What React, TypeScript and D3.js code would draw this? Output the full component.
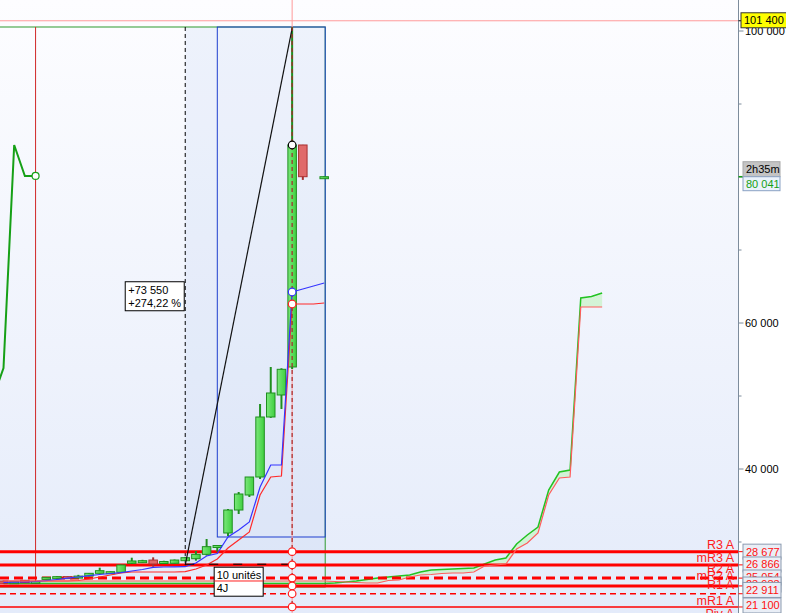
import React from "react";
import * as d3 from "d3";

const W = 786;
const H = 613;

// ---- candles (index, OHLC) ----
const candleIdx = [0,1,2,3,4,5,6,7,8,9,10,11,12,13,14,15,16,17,18,19,20,21,22,23,24,25,26,27,28,30];
const candleOpen = [24656,24341,24752,24400,24930,25110,25250,25130,25340,25710,25800,25850,27080,27170,27530,27060,27080,27440,27710,28310,29400,31232,34383,36438,38904,47124,50138,53974,84385,80041];
const candleHigh = [24700,24600,24800,24650,25200,25280,25270,25500,25750,26480,25960,26900,27850,27560,27900,27430,27600,27960,28770,30410,29520,34520,36849,38904,48905,53974,53800,100548,84400,80100];
const candleLow  = [24300,24300,24400,24380,24900,25100,25100,25100,25300,25690,25780,25800,27000,27150,26610,27040,27060,27420,27440,28130,28680,30821,33835,36164,38630,47000,48220,53700,79600,79980];
const candleClose= [24341,24565,24424,24600,25160,25250,25120,25330,25710,26070,25930,26850,27400,27440,26980,27330,27530,27850,28310,29360,29520,34383,36575,38904,47124,50412,53658,84385,80041,80041];

// ---- moving averages (index 0..30) ----
const blueMA = [24479,24493,24521,24562,24712,24863,25041,25205,25384,25548,25685,25795,26027,26233,26534,26575,26603,26616,27123,28082,28425,30685,31644,32740,37534,40548,40548,64247,64658,65069,65479];
const redMA = [24658,24658,24658,24658,24658,24658,24658,24726,24932,25205,25479,25753,25890,25890,25890,25890,25890,25931,26301,26849,27671,29178,30274,31370,36438,38904,39041,62603,62603,62603,62740];

// ---- projection band ----
const projIdx = [0,30,31,32,33,34,35,36,37,38,39,40,41,42,43,44,45,46,47,48,49,50,51,52,53,54,55,56];
const projGreen = [24315,24315,24384,24521,24658,24863,25068,25205,25342,25479,25890,26164,26233,26301,26370,26438,26986,27534,27808,29726,30959,32055,37123,39589,39863,63425,63630,64110];
const projRed = [24658,24658,24589,24521,24452,24384,24384,24726,24795,25205,25479,25548,25685,25753,25753,25890,26712,26849,26986,29041,29863,31233,36438,38767,38904,62192,62192,62192];

// ---- left line ----
const leftLineIdx = [-1,0,1,2,3];
const leftLineVal = [49645,53837,84385,80141,80141];

// ---- pivot levels ----
const levelNames = ["R3 A","mR3 A","R2 A","mR2 A","R1 A","mR1 A","Piv A"];
const levelValues = [28677,26866,25054,23983,22911,21100,19289];

// ---- axis ----
const majorTicks = [100000,80000,60000,40000,20000];
const minorTicks = [90000,70000,50000,30000];

const lastPrice = 80041;
const crossPrice = 101400;
const timerText = "2h35m";
const measureStartIdx = 17;
const measureStartVal = 26821;
const measureEndIdx = 27;
const measureEndVal = 100371;
const measureText = ["+73 550", "+274,22 %"];
const unitsText = ["10 unités", "4J"];
const boxHighVal = 100548;
const blueBoxLowVal = 30685;
const greenBoxLowVal = 23836;
const greenBoxStartIdx = 3;
const blueBoxStartIdx = 20;
const boxEndIdx = 30;

const FONT = "'Liberation Sans', Arial, sans-serif";

export default function App() {
  const x = d3.scaleLinear().domain([0, 30]).range([3.5, 324.2]);
  const y = d3.scaleLinear().domain([40000, 60000]).range([469, 323]);
  const axisX = 738.5;
  const bodyW = 8.5;
  const fmt = d3.formatLocale({ decimal: ",", thousands: " ", grouping: [3], currency: ["", ""] }).format(",d");

  const maLine = (arr: number[]) =>
    d3.line<number>().x((_, i) => x(i)).y((v) => y(v))(arr) || "";
  const projLine = (arr: number[]) =>
    d3.line<number>().x((_, k) => x(projIdx[k])).y((v) => y(v))(arr) || "";
  const projArea =
    d3.area<number>().x((_, k) => x(projIdx[k])).y0((_, k) => y(projRed[k])).y1((v) => y(v))(projGreen) || "";
  const leftLine =
    d3.line<number>().x((_, k) => x(leftLineIdx[k])).y((v) => y(v))(leftLineVal) || "";

  const boxRight = x(boxEndIdx) + 1;
  const xs = x(measureStartIdx);
  const xe = x(measureEndIdx);
  const yStart = y(measureStartVal);
  const yEnd = y(measureEndVal);
  const yTop = y(boxHighVal);

  // level styles
  const levelWidth = [3, 3, 3, 3, 1.5, 1.5, 1.5];
  const levelDash = [null, null, "9,5", null, "6,4", null, null];
  const labelNudge = [-2.3, -3, -5, -6, -5, -2, -2];
  const boxNudge = [0, -0.4, -0.6, -1.4, -3.8, -1.5, 0];

  const circleVals = [
    { v: candleClose[27], c: "#000" },
    { v: blueMA[27], c: "#3333ff" },
    { v: redMA[27], c: "#ff2222" },
    ...levelValues.slice(0, 6).map((v) => ({ v, c: "#ff2020" })),
  ];

  return (
    <svg width={W} height={H} style={{ position: "absolute", left: 0, top: 0, fontFamily: FONT }}>
      <defs>
        <linearGradient id="bg" x1="0" y1="0" x2="0" y2="1">
          <stop offset="0" stopColor="#fdfdff" />
          <stop offset="1" stopColor="#e4ebfa" />
        </linearGradient>
        <linearGradient id="gc" x1="0" y1="0" x2="1" y2="0">
          <stop offset="0" stopColor="#7be87b" />
          <stop offset="1" stopColor="#3fcf3f" />
        </linearGradient>
      </defs>
      <rect x={0} y={0} width={W} height={H} fill="#ffffff" />
      <rect x={0} y={0} width={axisX} height={H} fill="url(#bg)" />

      {/* measure shading */}
      <rect x={xs} y={yTop} width={boxRight - xs} height={yStart - yTop} fill="rgba(170,190,235,0.16)" />

      {/* projection band */}
      <path d={projArea} fill="#c9f3c9" opacity={0.75} />
      <path d={projLine(projGreen)} fill="none" stroke="#22c322" strokeWidth={1.5} />

      {/* green box */}
      <rect x={-5} y={yTop} width={boxRight + 5} height={y(greenBoxLowVal) - yTop} fill="none" stroke="#2e9a2e" strokeWidth={1} />
      {/* blue box */}
      <rect x={x(blueBoxStartIdx)} y={yTop} width={boxRight - x(blueBoxStartIdx)} height={y(blueBoxLowVal) - yTop} fill="none" stroke="#1f3fcf" strokeWidth={1} />
      {/* red vertical */}
      <line x1={x(greenBoxStartIdx)} x2={x(greenBoxStartIdx)} y1={yTop} y2={y(24658)} stroke="#d02828" strokeWidth={1} />
      {/* dashed measure vertical */}
      <line x1={xs} x2={xs} y1={yTop} y2={yStart} stroke="#000" strokeWidth={1} strokeDasharray="4,3" />

      {/* pivot lines */}
      {levelValues.map((v, k) => (
        <line key={"lv" + k} x1={0} x2={axisX} y1={y(v)} y2={y(v)} stroke="#ff0000" strokeWidth={levelWidth[k]} strokeDasharray={levelDash[k] || undefined} />
      ))}
      {levelValues.map((v, k) => (
        <text key={"lt" + k} x={734} y={y(v) + labelNudge[k]} fill="#ff1a1a" fontSize={12.5} textAnchor="end">
          {levelNames[k]}
        </text>
      ))}

      {/* left line */}
      <path d={leftLine} fill="none" stroke="#16a016" strokeWidth={2} />
      <circle cx={x(leftLineIdx[4])} cy={y(leftLineVal[4])} r={3.5} fill="#fff" stroke="#16a016" strokeWidth={1.2} />

      {/* crosshair */}
      <line x1={0} x2={axisX} y1={y(crossPrice)} y2={y(crossPrice)} stroke="#ff9a9a" strokeWidth={1} />
      <line x1={x(27)} x2={x(27)} y1={0} y2={H} stroke="#ff9a9a" strokeWidth={1} />

      {/* candles */}
      {candleIdx.map((ci, k) => {
        const o = candleOpen[k], c = candleClose[k], h = candleHigh[k], l = candleLow[k];
        const up = c >= o;
        const cx = x(ci);
        const top = y(Math.max(o, c));
        const bot = y(Math.min(o, c));
        const bh = Math.max(2, bot - top);
        const edge = up ? "#1f8f1f" : "#a83030";
        return (
          <g key={"c" + k}>
            <line x1={cx} x2={cx} y1={y(h)} y2={y(l)} stroke={edge} strokeWidth={2} />
            <rect x={cx - bodyW / 2} y={top} width={bodyW} height={bh} fill={up ? "url(#gc)" : "#e06a6a"} stroke={edge} strokeWidth={1} />
          </g>
        );
      })}

      {/* moving averages */}
      <path d={maLine(redMA)} fill="none" stroke="#ff2a2a" strokeWidth={1.2} />
      <path d={maLine(blueMA)} fill="none" stroke="#3535ff" strokeWidth={1.2} />

      {/* projection red line */}
      <path d={projLine(projRed)} fill="none" stroke="#ff5c5c" strokeWidth={1.2} />

      {/* measure baseline and diagonal */}
      <line x1={xs} x2={xe} y1={yStart - 1} y2={yStart - 1} stroke="#000" strokeWidth={1} strokeDasharray="9,15" />
      <line x1={xs} x2={xe} y1={yStart} y2={yEnd} stroke="#111" strokeWidth={1.2} />

      {/* vertical dashed marker */}
      <line x1={x(27)} x2={x(27)} y1={yTop} y2={y(levelValues[5])} stroke="#a82828" strokeWidth={1.2} strokeDasharray="4,3" />
      {circleVals.map((cv, k) => (
        <circle key={"cc" + k} cx={x(27)} cy={y(cv.v)} r={3.8} fill="#fff" stroke={cv.c} strokeWidth={1.2} />
      ))}

      {/* measure label */}
      <g>
        <rect x={xs - 60} y={(yStart + yEnd) / 2 - 15} width={59} height={29} fill="#fff" stroke="#000" strokeWidth={1} />
        <text x={xs - 57} y={(yStart + yEnd) / 2 - 3} fontSize={11} fill="#000">{measureText[0]}</text>
        <text x={xs - 57} y={(yStart + yEnd) / 2 + 10} fontSize={11} fill="#000">{measureText[1]}</text>
      </g>
      <g>
        <rect x={(xs + xe) / 2 - 24.5} y={yStart + 2} width={49} height={29} fill="#fff" stroke="#000" strokeWidth={1} />
        <line x1={(xs + xe) / 2 - 24.5} x2={(xs + xe) / 2 + 24.5} y1={y(projRed[0])} y2={y(projRed[0])} stroke="#ff2020" strokeWidth={1} />
        <text x={(xs + xe) / 2 - 22} y={yStart + 14} fontSize={11} fill="#000">{unitsText[0]}</text>
        <text x={(xs + xe) / 2 - 22} y={yStart + 27} fontSize={11} fill="#000">{unitsText[1]}</text>
      </g>

      {/* right axis */}
      <line x1={axisX} x2={axisX} y1={0} y2={H} stroke="#7d8c9c" strokeWidth={1} />
      {majorTicks.map((t) => (
        <g key={"mt" + t}>
          <line x1={axisX} x2={axisX + 5} y1={y(t)} y2={y(t)} stroke="#7d8c9c" />
          <text x={745} y={y(t)} dy="0.35em" fontSize={11} fill="#000">{fmt(t)}</text>
        </g>
      ))}
      {minorTicks.map((t) => (
        <line key={"nt" + t} x1={axisX} x2={axisX + 3} y1={y(t)} y2={y(t)} stroke="#7d8c9c" />
      ))}

      {/* pivot price boxes */}
      {levelValues.slice(0, 6).map((v, k) => {
        const cy = y(v) + boxNudge[k];
        return (
          <g key={"pb" + k}>
            <line x1={axisX} x2={743} y1={y(v)} y2={y(v)} stroke="#ff0000" strokeWidth={1} />
            <rect x={743} y={cy - 7.5} width={38} height={15} fill="#e9eef6" stroke="#8c9bb0" strokeWidth={1} />
            <text x={746} y={cy} dy="0.36em" fontSize={11} fill="#ff1010">{fmt(v)}</text>
          </g>
        );
      })}

      {/* crosshair price */}
      <line x1={axisX} x2={743} y1={y(crossPrice)} y2={y(crossPrice)} stroke="#000" />
      <rect x={741} y={y(crossPrice) - 8} width={48} height={15} fill="#ffff00" stroke="#333" strokeWidth={1} />
      <text x={744} y={y(crossPrice)} dy="0.33em" fontSize={11} fill="#000">{fmt(crossPrice)}</text>

      {/* last price */}
      <line x1={axisX} x2={743} y1={y(lastPrice)} y2={y(lastPrice)} stroke="#16a016" strokeWidth={1.5} />
      <rect x={743} y={y(lastPrice) - 15} width={37} height={15} fill="#c4c4c4" stroke="#a8a8a8" strokeWidth={1} />
      <text x={746} y={y(lastPrice) - 7.5} dy="0.36em" fontSize={11} fill="#000">{timerText}</text>
      <rect x={743} y={y(lastPrice)} width={37} height={14} fill="#eaf2fb" stroke="#8aa2c4" strokeWidth={1} />
      <text x={746} y={y(lastPrice) + 7} dy="0.36em" fontSize={11} fill="#14a014">{fmt(lastPrice)}</text>
    </svg>
  );
}
